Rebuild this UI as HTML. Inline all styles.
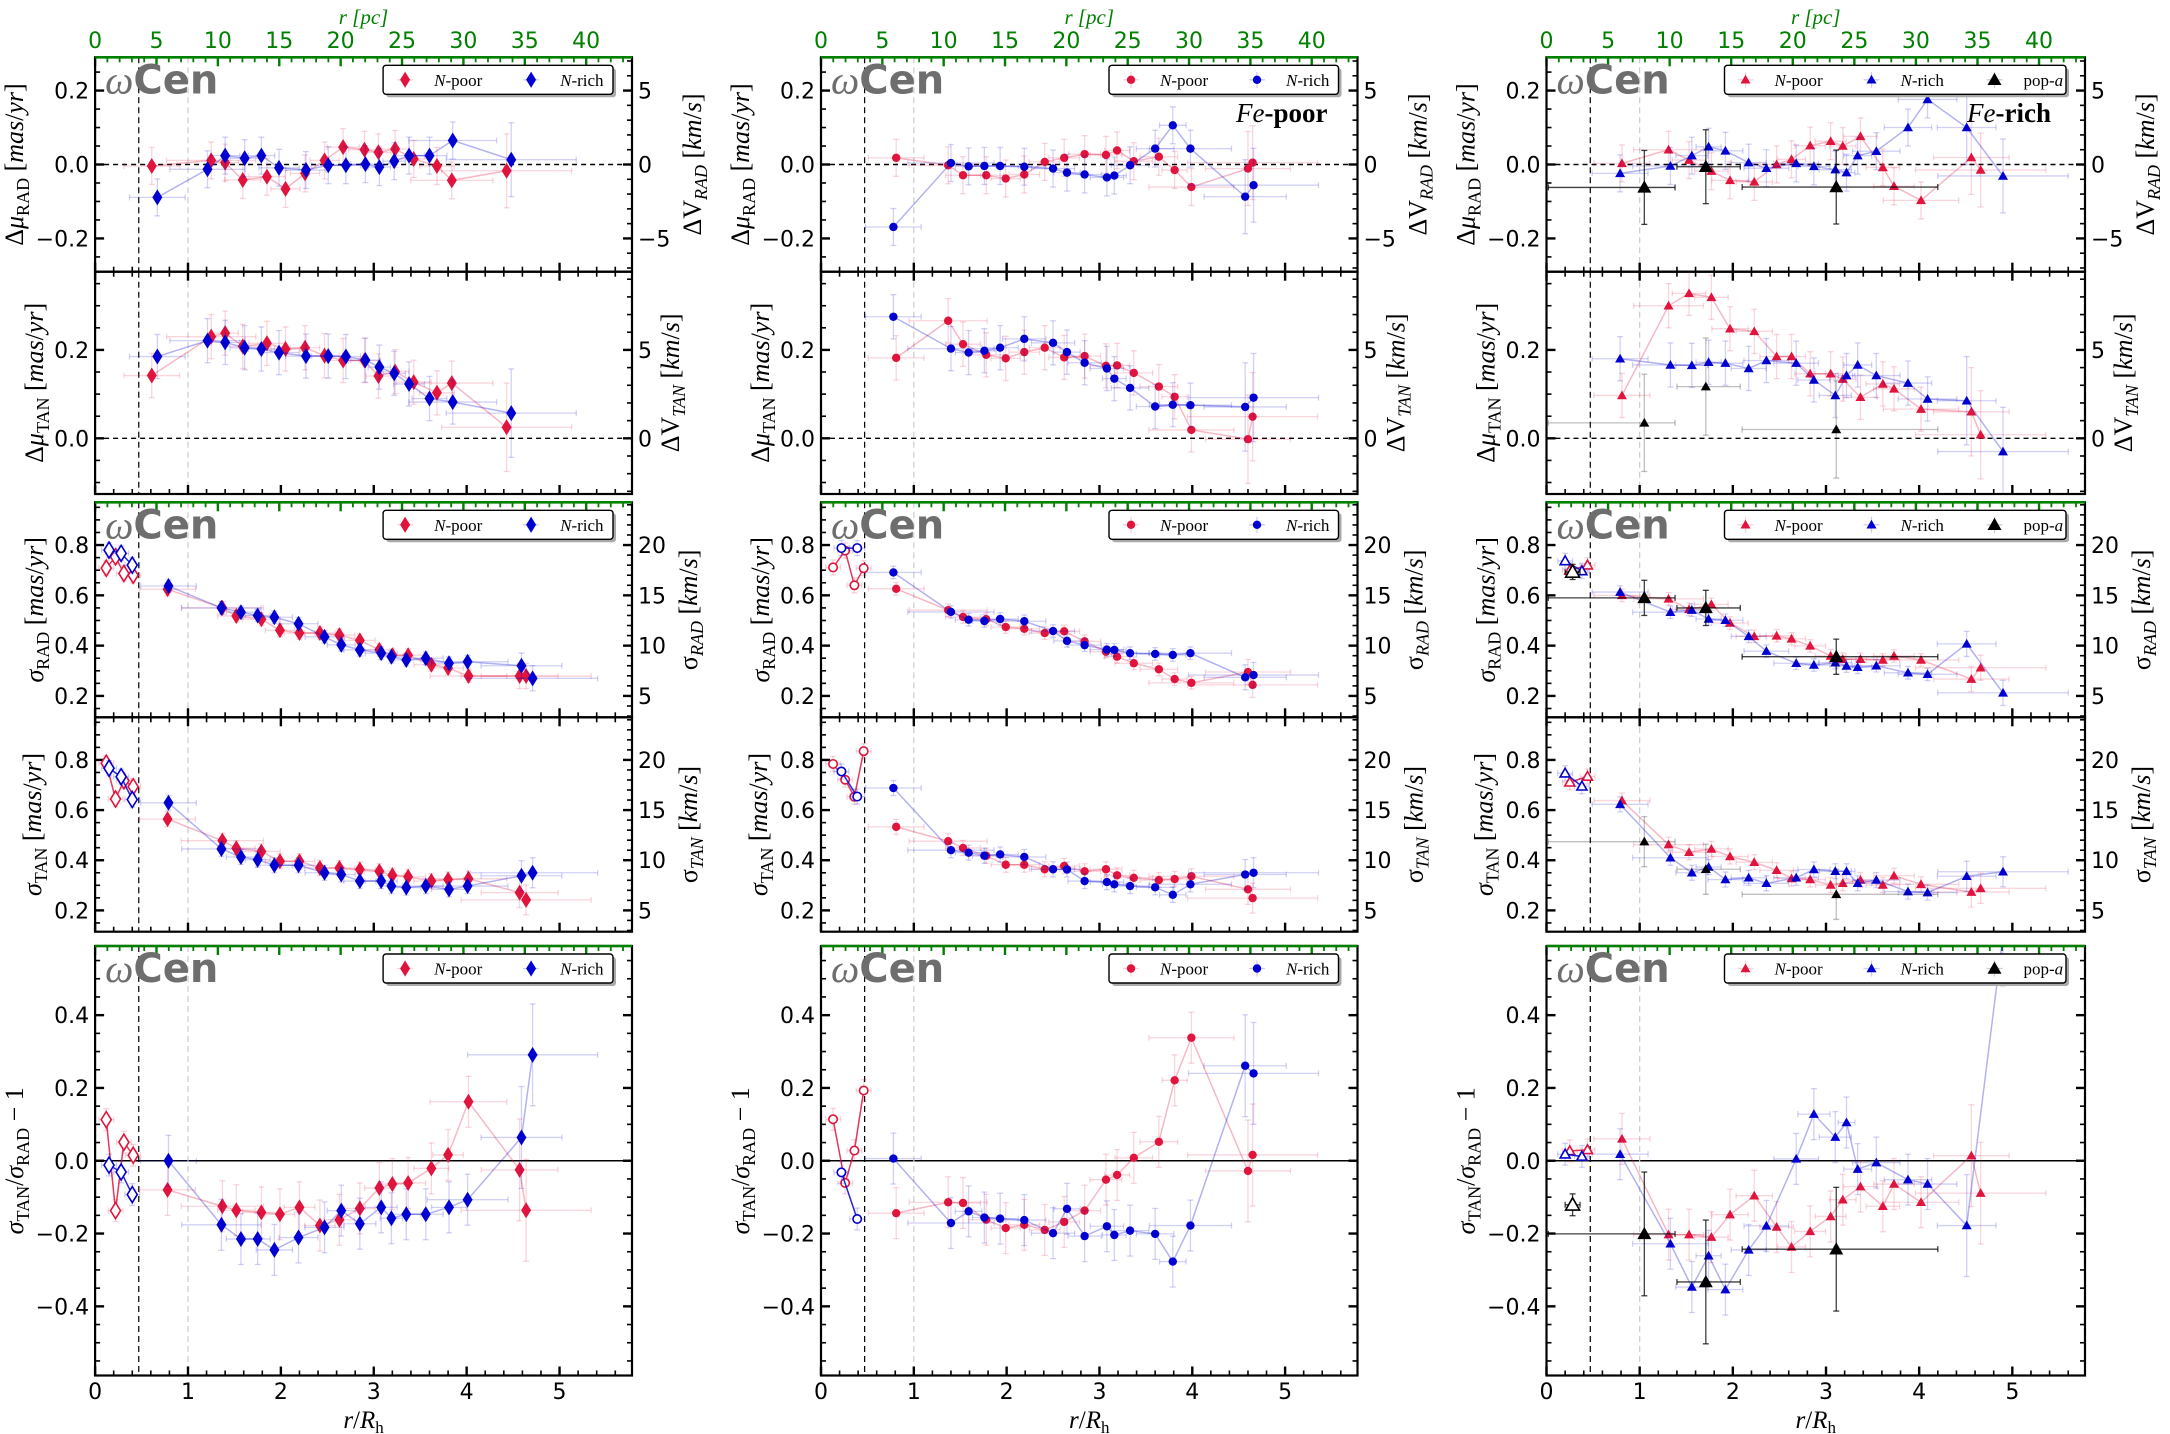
<!DOCTYPE html>
<html><head><meta charset="utf-8"><style>
html,body{margin:0;padding:0;background:#fff;}
svg{display:block;}
text{font-family:"DejaVu Sans","Liberation Sans",sans-serif;}
.serif{font-family:"Liberation Serif","DejaVu Serif",serif;}
</style></head><body>
<svg id="fig" xmlns="http://www.w3.org/2000/svg" width="2170" height="1434" viewBox="0 0 2170 1434"></svg>
<script>
// ---------------- data ----------------
const c1_r12_poor_x=[0.61,1.25,1.40,1.59,1.85,2.05,2.26,2.47,2.67,2.90,3.05,3.23,3.43,3.68,3.84,4.43];
const c1_r12_rich_x=[0.67,1.21,1.40,1.61,1.79,1.98,2.27,2.51,2.70,2.91,3.06,3.22,3.38,3.60,3.85,4.48];
const c1_poor_x=[0.78,1.37,1.52,1.79,1.99,2.20,2.42,2.63,2.85,3.06,3.20,3.37,3.62,3.80,4.02,4.57,4.64];
const c1_rich_x=[0.79,1.36,1.57,1.75,1.93,2.19,2.47,2.65,2.85,3.08,3.19,3.35,3.56,3.81,4.01,4.59,4.71];
const c1_in_poor_x=[0.12,0.22,0.31,0.41];
const c1_in_rich_x=[0.15,0.28,0.40];
const c2_poor_x=[0.81,1.37,1.53,1.78,1.99,2.19,2.41,2.62,2.84,3.07,3.19,3.37,3.64,3.81,3.99,4.60,4.65];
const c2_rich_x=[0.78,1.40,1.59,1.76,1.93,2.19,2.50,2.65,2.84,3.08,3.16,3.33,3.60,3.79,3.98,4.57,4.66];
const c2_in_poor_x=[0.13,0.26,0.36,0.46];
const c2_in_rich_x=[0.22,0.39];
const c3_poor_x=[0.81,1.31,1.53,1.77,1.97,2.23,2.47,2.63,2.83,3.05,3.18,3.37,3.61,3.73,4.02,4.56,4.66];
const c3_rich_x=[0.79,1.33,1.56,1.74,1.92,2.17,2.36,2.68,2.87,3.10,3.22,3.34,3.54,3.88,4.09,4.51,4.90];
const c3_popa_x=[1.05,1.71,3.11];
const c3_in_poor_x=[0.25,0.44];
const c3_in_rich_x=[0.20,0.38];
const c3_in_popa_x=[0.28];
const c1r1_poor=[-0.004,0.011,0.005,-0.042,-0.033,-0.066,-0.024,0.011,0.047,0.040,0.033,0.042,0.015,-0.004,-0.043,-0.017];
const c1r1_rich=[-0.089,-0.013,0.024,0.017,0.024,-0.009,-0.015,-0.002,-0.002,0.001,-0.007,0.009,0.024,0.024,0.065,0.013];
const c1r2_poor=[0.142,0.230,0.238,0.208,0.215,0.202,0.205,0.187,0.176,0.176,0.141,0.151,0.127,0.103,0.125,0.025];
const c1r2_rich=[0.185,0.221,0.217,0.205,0.202,0.194,0.186,0.186,0.185,0.177,0.161,0.147,0.123,0.090,0.082,0.057];
const c1r3_poor=[0.624,0.550,0.518,0.505,0.461,0.450,0.450,0.442,0.421,0.383,0.362,0.362,0.324,0.311,0.279,0.279,0.279];
const c1r3_rich=[0.637,0.550,0.533,0.520,0.513,0.487,0.435,0.403,0.383,0.370,0.356,0.343,0.350,0.330,0.336,0.320,0.270];
const c1r3_in_poor=[0.708,0.753,0.687,0.680];
const c1r3_in_rich=[0.780,0.767,0.720];
const c1r4_poor=[0.564,0.478,0.448,0.435,0.396,0.396,0.369,0.369,0.363,0.356,0.340,0.334,0.317,0.323,0.326,0.271,0.242];
const c1r4_rich=[0.629,0.445,0.413,0.402,0.380,0.380,0.350,0.343,0.317,0.317,0.297,0.291,0.297,0.284,0.297,0.338,0.350];
const c1r4_in_poor=[0.787,0.644,0.717,0.693];
const c1r4_in_rich=[0.767,0.733,0.642];
const c1r5_poor=[-0.080,-0.125,-0.136,-0.142,-0.147,-0.128,-0.178,-0.162,-0.131,-0.075,-0.064,-0.061,-0.021,0.016,0.162,-0.025,-0.136];
const c1r5_rich=[0.000,-0.176,-0.215,-0.215,-0.245,-0.211,-0.183,-0.137,-0.173,-0.128,-0.158,-0.147,-0.147,-0.128,-0.107,0.064,0.291];
const c1r5_in_poor=[0.113,-0.137,0.051,0.015];
const c1r5_in_rich=[-0.012,-0.031,-0.093];
const c2r1_poor=[0.018,-0.002,-0.029,-0.029,-0.038,-0.027,0.007,0.018,0.028,0.026,0.038,0.009,0.021,-0.015,-0.061,-0.011,0.005];
const c2r1_rich=[-0.169,0.004,-0.005,-0.004,-0.004,-0.006,-0.011,-0.022,-0.027,-0.035,-0.030,-0.002,0.043,0.106,0.043,-0.087,-0.056];
const c2r2_poor=[0.182,0.266,0.213,0.189,0.181,0.195,0.205,0.183,0.186,0.164,0.165,0.148,0.117,0.094,0.019,-0.002,0.049];
const c2r2_rich=[0.275,0.203,0.194,0.198,0.205,0.225,0.216,0.195,0.171,0.158,0.135,0.114,0.072,0.076,0.075,0.071,0.092];
const c2r3_poor=[0.626,0.541,0.514,0.505,0.474,0.467,0.450,0.457,0.417,0.376,0.356,0.330,0.306,0.267,0.252,0.295,0.244];
const c2r3_rich=[0.691,0.534,0.503,0.498,0.506,0.497,0.458,0.419,0.402,0.384,0.383,0.370,0.367,0.363,0.370,0.274,0.283];
const c2r3_in_poor=[0.711,0.778,0.640,0.708];
const c2r3_in_rich=[0.788,0.788];
const c2r4_poor=[0.533,0.476,0.449,0.418,0.382,0.382,0.364,0.377,0.356,0.364,0.340,0.330,0.321,0.325,0.336,0.284,0.249];
const c2r4_rich=[0.688,0.440,0.430,0.418,0.423,0.413,0.364,0.363,0.317,0.313,0.304,0.297,0.292,0.262,0.304,0.343,0.350];
const c2r4_in_poor=[0.784,0.721,0.653,0.835];
const c2r4_in_rich=[0.754,0.654];
const c2r5_poor=[-0.144,-0.114,-0.116,-0.162,-0.185,-0.176,-0.190,-0.168,-0.137,-0.052,-0.039,0.008,0.052,0.221,0.338,-0.028,0.016];
const c2r5_rich=[0.006,-0.171,-0.139,-0.156,-0.159,-0.163,-0.199,-0.132,-0.207,-0.180,-0.204,-0.192,-0.201,-0.277,-0.178,0.261,0.240];
const c2r5_in_poor=[0.114,-0.061,0.028,0.193];
const c2r5_in_rich=[-0.032,-0.160];
const c3r1_poor=[0.003,0.040,0.012,-0.018,-0.043,-0.047,0.000,0.014,0.051,0.063,0.050,0.076,-0.008,-0.059,-0.097,0.019,-0.015];
const c3r1_rich=[-0.024,-0.004,0.024,0.048,0.037,0.005,-0.010,0.003,-0.005,-0.014,-0.022,0.024,0.036,0.100,0.176,0.100,-0.031];
const c3r1_popa=[-0.062,-0.006,-0.061];
const c3r2_poor=[0.097,0.300,0.328,0.319,0.248,0.242,0.185,0.185,0.146,0.146,0.134,0.093,0.123,0.112,0.066,0.060,0.008];
const c3r2_rich=[0.180,0.166,0.165,0.172,0.170,0.158,0.176,0.170,0.132,0.097,0.142,0.166,0.142,0.125,0.089,0.085,-0.030];
const c3r2_popa=[0.035,0.117,0.020];
const c3r3_poor=[0.600,0.586,0.544,0.564,0.490,0.437,0.439,0.427,0.399,0.359,0.346,0.346,0.343,0.359,0.343,0.267,0.312];
const c3r3_rich=[0.613,0.533,0.541,0.506,0.501,0.437,0.378,0.330,0.323,0.332,0.319,0.314,0.320,0.292,0.286,0.407,0.212];
const c3r3_popa=[0.590,0.550,0.356];
const c3r3_in_poor=[0.700,0.720];
const c3r3_in_rich=[0.737,0.697];
const c3r3_in_popa=[0.693];
const c3r4_poor=[0.638,0.462,0.432,0.445,0.415,0.392,0.360,0.327,0.323,0.301,0.308,0.321,0.301,0.338,0.304,0.273,0.288];
const c3r4_rich=[0.623,0.410,0.350,0.373,0.323,0.330,0.308,0.330,0.363,0.356,0.356,0.308,0.321,0.275,0.271,0.336,0.354];
const c3r4_popa=[0.474,0.364,0.264];
const c3r4_in_poor=[0.711,0.734];
const c3r4_in_rich=[0.747,0.695];
const c3r5_poor=[0.060,-0.203,-0.203,-0.210,-0.148,-0.096,-0.182,-0.237,-0.194,-0.153,-0.107,-0.071,-0.125,-0.064,-0.114,0.014,-0.089];
const c3r5_rich=[0.018,-0.228,-0.347,-0.261,-0.354,-0.245,-0.179,0.005,0.128,0.065,0.105,-0.023,-0.005,-0.052,-0.064,-0.178,0.62];
const c3r5_popa=[-0.201,-0.333,-0.243];
const c3r5_in_poor=[0.027,0.030];
const c3r5_in_rich=[0.018,0.012];
const c3r5_in_popa=[-0.121];
const rowYerr=[0.05,0.05,0.025,0.03,0.07];
const popaYerr=[0.1,0.11,0.07,0.1,0.17];
const popaXlo=[0.02,1.40,2.10];
const popaXhi=[1.38,2.08,4.20];
const rowTicks=[[0.2,0.0,-0.2],[0.2,0.0],[0.8,0.6,0.4,0.2],[0.8,0.6,0.4,0.2],[0.4,0.2,0.0,-0.2,-0.4]];
const rowTickLabels=[["0.2","0.0","\u22120.2"],["0.2","0.0"],["0.8","0.6","0.4","0.2"],["0.8","0.6","0.4","0.2"],["0.4","0.2","0.0","\u22120.2","\u22120.4"]];
const kmsTicks=[[5,0,-5],[5,0],[20,15,10,5],[20,15,10,5]];
const kmsTickLabels=[["5","0","\u22125"],["5","0"],["20","15","10","5"],["20","15","10","5"]];
const xTicks=[0,1,2,3,4,5];
const pcTicks=[0,5,10,15,20,25,30,35,40];

const COLS=[{x0:95.1,x1:632},{x0:821,x1:1357.5},{x0:1546.5,x1:2085}];
const ROWS=[{y0:57.3,y1:271.7,min:-0.29,max:0.29},{y0:271.7,y1:494,min:-0.126,max:0.377},
 {y0:502.3,y1:717.3,min:0.115,max:0.97},{y0:717.3,y1:931.7,min:0.115,max:0.97},{y0:946,y1:1375.5,min:-0.59,max:0.59}];
const XMAX=5.78, PC2RH=0.13217, KMS=25;
const RED='#e0143c', BLUE='#0000d0', GREEN='#008000';
const NS='http://www.w3.org/2000/svg';
const svg=document.getElementById('fig');
function sx(c,v){return COLS[c].x0+v/XMAX*(COLS[c].x1-COLS[c].x0);}
function sy(r,v){const R=ROWS[r];return R.y1-(v-R.min)/(R.max-R.min)*(R.y1-R.y0);}
function el(tag,attrs,parent){const e=document.createElementNS(NS,tag);for(const k in attrs)e.setAttribute(k,attrs[k]);(parent||svg).appendChild(e);return e;}
function line(x1,y1,x2,y2,st,p){return el('line',Object.assign({x1:x1,y1:y1,x2:x2,y2:y2},st),p);}

const defs=el('defs',{});
for(let c=0;c<3;c++)for(let r=0;r<5;r++){
  const cp=el('clipPath',{id:'clip'+c+r},defs);
  el('rect',{x:COLS[c].x0,y:ROWS[r].y0,width:COLS[c].x1-COLS[c].x0,height:ROWS[r].y1-ROWS[r].y0},cp);
}

function marker(g,kind,shape,x,y,open,big){
  const col=kind==='poor'?RED:kind==='rich'?BLUE:'#000';
  const fill=open?'#fff':col, st={fill:fill,stroke:open?col:'none','stroke-width':1.6};
  let m;
  if(shape==='diamond') m=el('polygon',Object.assign({points:`${x},${y-8} ${x+5},${y} ${x},${y+8} ${x-5},${y}`},st),g);
  else if(shape==='circle') m=el('circle',Object.assign({cx:x,cy:y,r:4.2},st),g);
  else{const w=big?7:5,h=big?7:5; m=el('polygon',Object.assign({points:`${x},${y-h} ${x+w},${y+h*0.75} ${x-w},${y+h*0.75}`},st),g);}
  return m;
}

function drawSeries(c,r,kind,xs,ys,shape,open){
  const g=el('g',{'clip-path':`url(#clip${c}${r})`});
  
  
  const col=kind==='poor'?RED:kind==='rich'?BLUE:'#000';
  const n=xs.length;
  for(let i=0;i<n;i++){
    let xl,xh,ye=open?0.03:rowYerr[r];
    if(kind==='popa'&&!open){xl=popaXlo[i];xh=popaXhi[i];ye=popaYerr[r];}
    else if(open){xl=xs[i]-0.08;xh=xs[i]+0.08;}
    else{
      const gp=i>0?xs[i]-xs[i-1]:0.3, gn=i<n-1?xs[i+1]-xs[i]:0.6;
      let h=Math.max(gp,gn)*0.75; if(i===0)h=0.3; if(i===n-1)h=0.7;
      xl=xs[i]-h;xh=xs[i]+h;
      if(xs[i]>4.3)ye*=2;
    }
    const op=kind==='popa'?(r%2===0?0.75:0.25):0.18;
    const st={stroke:col,'stroke-width':1.3,'stroke-opacity':op};
    const X=sx(c,xs[i]),Y=sy(r,ys[i]);
    line(sx(c,xl),Y,sx(c,xh),Y,st,g);
    line(X,sy(r,ys[i]-ye),X,sy(r,ys[i]+ye),st,g);
    line(X-3,sy(r,ys[i]-ye),X+3,sy(r,ys[i]-ye),st,g);
    line(X-3,sy(r,ys[i]+ye),X+3,sy(r,ys[i]+ye),st,g);
    line(sx(c,xl),Y-3,sx(c,xl),Y+3,st,g);
    line(sx(c,xh),Y-3,sx(c,xh),Y+3,st,g);
  }
  if(kind!=='popa'){
    const pts=xs.map((x,i)=>sx(c,x)+','+sy(r,ys[i])).join(' ');
    el('polyline',{points:pts,fill:'none',stroke:col,'stroke-width':1.5,'stroke-opacity':open?0.85:0.3},g);
  }
  for(let i=0;i<n;i++){
    const m=marker(g,kind,shape,sx(c,xs[i]),sy(r,ys[i]),open,kind==='popa'&&(r%2===0));
    
    
  }
}

function txt(x,y,s,attrs,p){const t=el('text',Object.assign({x:x,y:y},attrs||{}),p);t.textContent=s;return t;}

for(let c=0;c<3;c++){
  for(let r=0;r<5;r++){
    const R=ROWS[r],X0=COLS[c].x0,X1=COLS[c].x1;
    const g=el('g',{});
    
    
    if(r<=1) line(X0,sy(r,0),X1,sy(r,0),{stroke:'#000','stroke-width':1.4,'stroke-dasharray':'5,4'},g);
    if(r===4) line(X0,sy(r,0),X1,sy(r,0),{stroke:'#000','stroke-width':1.6},g);
    line(sx(c,0.47),R.y0,sx(c,0.47),R.y1,{stroke:'#000','stroke-width':1.2,'stroke-dasharray':'6,4'},g);
    line(sx(c,1.0),R.y0,sx(c,1.0),R.y1,{stroke:'#ccc','stroke-width':1.2,'stroke-dasharray':'6,4'},g);
    for(let v=0;v<=XMAX+1e-6;v+=0.2){
      const maj=Math.abs(v-Math.round(v))<1e-6;
      line(sx(c,v),R.y1,sx(c,v),R.y1-(maj?9:5),{stroke:'#000','stroke-width':maj?2.4:1.6},g);
    }
    const top=(r===0||r===2||r===4);
    if(top){
      for(let p=0;p<=43;p++){
        const maj=p%5===0;
        line(sx(c,p*PC2RH),R.y0,sx(c,p*PC2RH),R.y0+(maj?9:5),{stroke:GREEN,'stroke-width':maj?2.4:1.8},g);
      }
    } else {
      for(let v=0;v<=XMAX+1e-6;v+=0.2){
        const maj=Math.abs(v-Math.round(v))<1e-6;
        line(sx(c,v),R.y0,sx(c,v),R.y0+(maj?9:5),{stroke:'#000','stroke-width':maj?2.4:1.6},g);
      }
    }
    const step=0.05;
    for(let v=Math.ceil(R.min/step)*step;v<=R.max+1e-9;v+=step){
      const maj=Math.abs(v/0.2-Math.round(v/0.2))<1e-6;
      line(X0,sy(r,v),X0+(maj?9:5),sy(r,v),{stroke:'#000','stroke-width':maj?2.4:1.6},g);
      if(r===4) line(X1,sy(r,v),X1-(maj?9:5),sy(r,v),{stroke:'#000','stroke-width':maj?2.4:1.6},g);
    }
    rowTicks[r].forEach((v,i)=>{
      txt(X0-6,sy(r,v)+8,rowTickLabels[r][i],{'font-size':22,'text-anchor':'end'},g);
    });
    if(r<4){
      for(let k=Math.ceil(R.min*KMS);k<=R.max*KMS;k++){
        const maj=k%5===0;
        line(X1,sy(r,k/KMS),X1-(maj?9:5),sy(r,k/KMS),{stroke:'#000','stroke-width':maj?2.4:1.6},g);
      }
      kmsTicks[r].forEach((k,i)=>{
        txt(X1+6,sy(r,k/KMS)+8,kmsTickLabels[r][i],{'font-size':22},g);
      });
    }
    el('rect',{x:X0,y:R.y0,width:X1-X0,height:R.y1-R.y0,fill:'none',stroke:'#000','stroke-width':2.2},g);
    if(r===0){
      line(X0,R.y0,X1,R.y0,{stroke:GREEN,'stroke-width':2.6},g);
      pcTicks.forEach(p=>txt(sx(c,p*PC2RH),48,String(p),{'font-size':22,'text-anchor':'middle',fill:GREEN},g));
      txt((X0+X1)/2,24,'r [pc]',{'font-size':21,'text-anchor':'middle',fill:GREEN,class:'serif','font-style':'italic'},g);
    }
    if(r===2||r===4) line(X0,R.y0,X1,R.y0,{stroke:GREEN,'stroke-width':2.6},g);
    if(r===4){
      xTicks.forEach(v=>txt(sx(c,v),1399,String(v),{'font-size':22,'text-anchor':'middle'},g));
      const t=el('text',{x:(X0+X1)/2,y:1428,'font-size':25,'text-anchor':'middle',class:'serif'},g);
      t.innerHTML='<tspan font-style="italic">r</tspan>/<tspan font-style="italic">R</tspan><tspan font-size="17" dy="5">h</tspan>';
      
      
    }
  }
}

const leftTitles=[
 ['\u0394\u03bc','RAD',' [mas/yr]',14],['\u0394\u03bc','TAN',' [mas/yr]',34],
 ['\u03c3','RAD',' [mas/yr]',34],['\u03c3','TAN',' [mas/yr]',32],['\u03c3','TAN','',14]];
const rightTitles=[['\u0394V','RAD',' [km/s]',60],['\u0394V','TAN',' [km/s]',38],['\u03c3','RAD',' [km/s]',56],['\u03c3','TAN',' [km/s]',56]];
for(let c=0;c<3;c++){
  for(let r=0;r<5;r++){
    const R=ROWS[r],cy=(R.y0+R.y1)/2;
    const L=leftTitles[r];
    const lx=COLS[c].x0-95+L[3];
    const t=el('text',{x:0,y:0,'font-size':26,'text-anchor':'middle',class:'serif',transform:`translate(${lx+9},${cy}) rotate(-90)`});
    if(r===4) t.innerHTML='<tspan font-style="italic">\u03c3</tspan><tspan font-size="18" dy="6">TAN</tspan><tspan dy="-6">/</tspan><tspan font-style="italic">\u03c3</tspan><tspan font-size="18" dy="6">RAD</tspan><tspan dy="-6"> \u2212 1</tspan>';
    else t.innerHTML=`<tspan>${L[0].slice(0,-1)}</tspan><tspan font-style="italic">${L[0].slice(-1)}</tspan><tspan font-size="18" dy="6">${L[1]}</tspan><tspan dy="-6"> [</tspan><tspan font-style="italic">mas</tspan>/<tspan font-style="italic">yr</tspan>]`;
    
    
    if(r<4){
      const Q=rightTitles[r];
      const rx=COLS[c].x1+Q[3];
      const t2=el('text',{x:0,y:0,'font-size':26,'text-anchor':'middle',class:'serif',transform:`translate(${rx+9},${cy}) rotate(-90)`});
      t2.innerHTML=`<tspan>${Q[0]}</tspan><tspan font-size="18" dy="6" font-style="italic">${Q[1]}</tspan><tspan dy="-6"> [</tspan><tspan font-style="italic">km</tspan>/<tspan font-style="italic">s</tspan>]`;
      
      
    }
  }
}

const SER=[
 [0,0,'poor',c1_r12_poor_x,c1r1_poor,'diamond',false],[0,0,'rich',c1_r12_rich_x,c1r1_rich,'diamond',false],
 [0,1,'poor',c1_r12_poor_x,c1r2_poor,'diamond',false],[0,1,'rich',c1_r12_rich_x,c1r2_rich,'diamond',false],
 [0,2,'poor',c1_poor_x,c1r3_poor,'diamond',false],[0,2,'rich',c1_rich_x,c1r3_rich,'diamond',false],
 [0,2,'poor',c1_in_poor_x,c1r3_in_poor,'diamond',true],[0,2,'rich',c1_in_rich_x,c1r3_in_rich,'diamond',true],
 [0,3,'poor',c1_poor_x,c1r4_poor,'diamond',false],[0,3,'rich',c1_rich_x,c1r4_rich,'diamond',false],
 [0,3,'poor',c1_in_poor_x,c1r4_in_poor,'diamond',true],[0,3,'rich',c1_in_rich_x,c1r4_in_rich,'diamond',true],
 [0,4,'poor',c1_poor_x,c1r5_poor,'diamond',false],[0,4,'rich',c1_rich_x,c1r5_rich,'diamond',false],
 [0,4,'poor',c1_in_poor_x,c1r5_in_poor,'diamond',true],[0,4,'rich',c1_in_rich_x,c1r5_in_rich,'diamond',true],
 [1,0,'poor',c2_poor_x,c2r1_poor,'circle',false],[1,0,'rich',c2_rich_x,c2r1_rich,'circle',false],
 [1,1,'poor',c2_poor_x,c2r2_poor,'circle',false],[1,1,'rich',c2_rich_x,c2r2_rich,'circle',false],
 [1,2,'poor',c2_poor_x,c2r3_poor,'circle',false],[1,2,'rich',c2_rich_x,c2r3_rich,'circle',false],
 [1,2,'poor',c2_in_poor_x,c2r3_in_poor,'circle',true],[1,2,'rich',c2_in_rich_x,c2r3_in_rich,'circle',true],
 [1,3,'poor',c2_poor_x,c2r4_poor,'circle',false],[1,3,'rich',c2_rich_x,c2r4_rich,'circle',false],
 [1,3,'poor',c2_in_poor_x,c2r4_in_poor,'circle',true],[1,3,'rich',c2_in_rich_x,c2r4_in_rich,'circle',true],
 [1,4,'poor',c2_poor_x,c2r5_poor,'circle',false],[1,4,'rich',c2_rich_x,c2r5_rich,'circle',false],
 [1,4,'poor',c2_in_poor_x,c2r5_in_poor,'circle',true],[1,4,'rich',c2_in_rich_x,c2r5_in_rich,'circle',true],
 [2,0,'poor',c3_poor_x,c3r1_poor,'triangle',false],[2,0,'rich',c3_rich_x,c3r1_rich,'triangle',false],[2,0,'popa',c3_popa_x,c3r1_popa,'triangle',false],
 [2,1,'poor',c3_poor_x,c3r2_poor,'triangle',false],[2,1,'rich',c3_rich_x,c3r2_rich,'triangle',false],[2,1,'popa',c3_popa_x,c3r2_popa,'triangle',false],
 [2,2,'poor',c3_poor_x,c3r3_poor,'triangle',false],[2,2,'rich',c3_rich_x,c3r3_rich,'triangle',false],[2,2,'popa',c3_popa_x,c3r3_popa,'triangle',false],
 [2,2,'poor',c3_in_poor_x,c3r3_in_poor,'triangle',true],[2,2,'rich',c3_in_rich_x,c3r3_in_rich,'triangle',true],[2,2,'popa',c3_in_popa_x,c3r3_in_popa,'triangle',true],
 [2,3,'poor',c3_poor_x,c3r4_poor,'triangle',false],[2,3,'rich',c3_rich_x,c3r4_rich,'triangle',false],[2,3,'popa',c3_popa_x,c3r4_popa,'triangle',false],
 [2,3,'poor',c3_in_poor_x,c3r4_in_poor,'triangle',true],[2,3,'rich',c3_in_rich_x,c3r4_in_rich,'triangle',true],
 [2,4,'poor',c3_poor_x,c3r5_poor,'triangle',false],[2,4,'rich',c3_rich_x,c3r5_rich,'triangle',false],[2,4,'popa',c3_popa_x,c3r5_popa,'triangle',false],
 [2,4,'poor',c3_in_poor_x,c3r5_in_poor,'triangle',true],[2,4,'rich',c3_in_rich_x,c3r5_in_rich,'triangle',true],[2,4,'popa',c3_in_popa_x,c3r5_in_popa,'triangle',true]
];
SER.forEach(s=>drawSeries(s[0],s[1],s[2],s[3],s[4],s[5],s[6]));

const shapes=['diamond','circle','triangle'];
for(let c=0;c<3;c++){
  [0,2,4].forEach(r=>{
    const y0=ROWS[r].y0;
    const t=el('text',{x:COLS[c].x0+10,y:y0+36,'font-size':40,fill:'#6e6e6e','font-weight':'600'});
    t.innerHTML='<tspan font-family="Liberation Serif, serif" font-style="italic" font-weight="normal">\u03c9</tspan>Cen';
    
    
    const lg=el('g',{});
    
    
    const lx0=c===2?COLS[c].x0+178:COLS[c].x0+288, lx1=COLS[c].x1-19;
    const ly0=y0+8, ly1=y0+37;
    el('rect',{x:lx0+3,y:ly0+3,width:lx1-lx0,height:ly1-ly0,rx:3,fill:'#aaa'},lg);
    el('rect',{x:lx0,y:ly0,width:lx1-lx0,height:ly1-ly0,rx:3,fill:'#fff',stroke:'#000','stroke-width':1.4},lg);
    const ents=c===2?[['poor',lx0+21,'N','-poor'],['rich',lx0+147,'N','-rich'],['popa',lx0+270,'','pop-']]:[['poor',lx0+22,'N','-poor'],['rich',lx0+148,'N','-rich']];
    ents.forEach(e=>{
      const cy=(ly0+ly1)/2, col=e[0]==='poor'?RED:e[0]==='rich'?BLUE:'#000';
      line(e[1]-8,cy,e[1]+8,cy,{stroke:col,'stroke-opacity':0.2,'stroke-width':1.3},lg);
      line(e[1],cy-8,e[1],cy+8,{stroke:col,'stroke-opacity':0.2,'stroke-width':1.3},lg);
      const m=marker(lg,e[0],shapes[c],e[1],cy,false,e[0]==='popa');
      
      
      const tt=el('text',{x:e[1]+29,y:cy+6,'font-size':17,class:'serif'},lg);
      if(e[0]==='popa') tt.innerHTML='pop-<tspan font-style="italic">a</tspan>';
      else tt.innerHTML=`<tspan font-style="italic">${e[2]}</tspan>${e[3]}`;
      
      
    });
  });
}
[[1,'poor',1236],[2,'rich',1967]].forEach(f=>{
  const t=el('text',{x:f[2],y:122,'font-size':27,class:'serif'});
  t.innerHTML=`<tspan font-style="italic">Fe</tspan><tspan font-weight="bold">-${f[1]}</tspan>`;
  
  
});
</script>
</body></html>
